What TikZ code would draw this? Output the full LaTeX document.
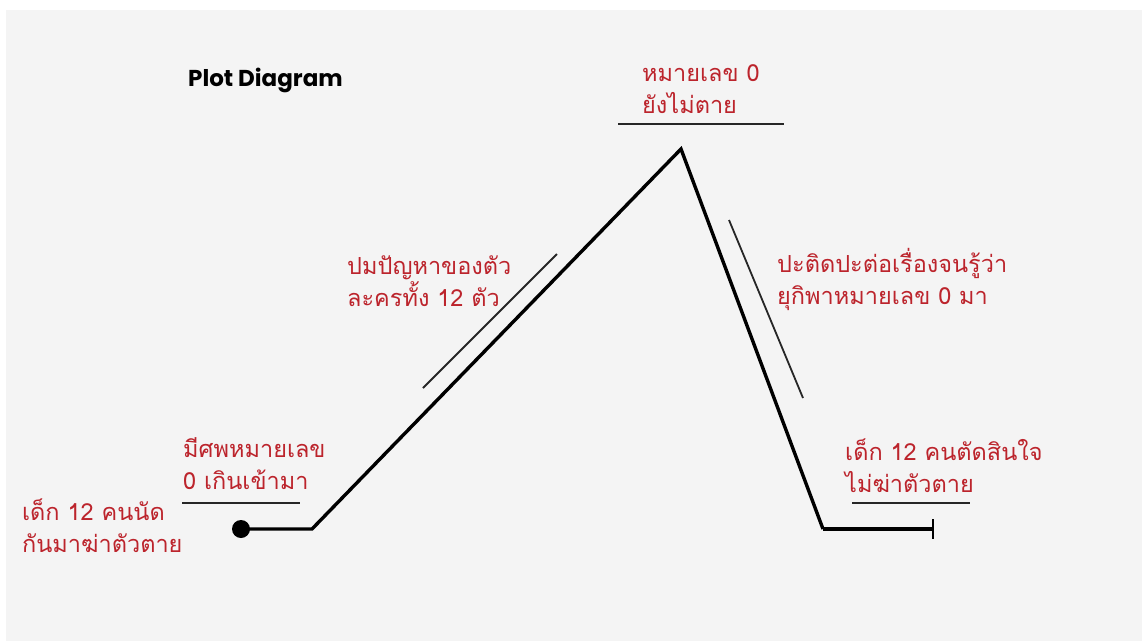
\documentclass[tikz,border=0pt]{standalone}
\usepackage{fontspec}
\setmainfont{Liberation Sans}
\newfontfamily\thaifont[Script=Thai]{Loma}
\newfontfamily\titlefont{Poppins}
\usetikzlibrary{arrows.meta, positioning}
\definecolor{plotred}{RGB}{188,36,44}
\definecolor{panelgray}{RGB}{244,244,244}

\begin{document}
\begin{tikzpicture}[x=1pt, y=-1pt,
    stagetext/.style={font=\thaifont\fontsize{23.5}{32}\selectfont, text=plotred, align=left, anchor=base west, inner sep=0pt},
    rule/.style={line width=1.8pt, black!85},
    plotline/.style={line width=3.4pt, line join=miter, black}]
  % Panel
  \useasboundingbox (0,0) rectangle (1142,641);
  \fill[white] (0,0) rectangle (1142,641);
  \fill[panelgray] (6,10) rectangle (1142,641);

  % Title
  \node[anchor=base west, inner sep=0pt, font=\titlefont\bfseries\fontsize{23}{28}\selectfont] (title) at (188,86) {Plot Diagram};

  % Plot line
  \coordinate (start) at (241,529);
  \coordinate (rise) at (312,529);
  \coordinate (climax) at (681,149);
  \coordinate (fall) at (823,529);
  \coordinate (finish) at (934,529);
  \draw[plotline] (start) -- (rise) -- (climax) -- (fall);
  \draw[plotline, -{Bar[width=20pt, line width=2.4pt]}] (fall) -- (finish);
  \fill (start) circle (9);

  % Rules beside the line
  \draw[rule] (182,503) -- (300,503);
  \draw[rule] (618,124) -- (784,124);
  \draw[rule] (852,503) -- (970,503);
  \draw[rule] (423,388) -- (557,254);
  \draw[rule] (729,220) -- (803,398);

  % Stage texts (anchored at the baseline of the second line)
  \node[stagetext] (expo) at (22,552) {เด็ก 12 คนนัด\\กันมาฆ่าตัวตาย};
  \node[stagetext] (incite) at (183,489) {มีศพหมายเลข\\0 เกินเข้ามา};
  \node[stagetext] (risingact) at (347,306) {ปมปัญหาของตัว\\ละครทั้ง 12 ตัว};
  \node[stagetext] (peak) at (642,113) {หมายเลข 0\\ยังไม่ตาย};
  \node[stagetext] (fallingact) at (777,304) {ปะติดปะต่อเรื่องจนรู้ว่า\\ยุกิพาหมายเลข 0 มา};
  \node[stagetext] (resolve) at (845,492) {เด็ก 12 คนตัดสินใจ\\ไม่ฆ่าตัวตาย};
\end{tikzpicture}
\end{document}
